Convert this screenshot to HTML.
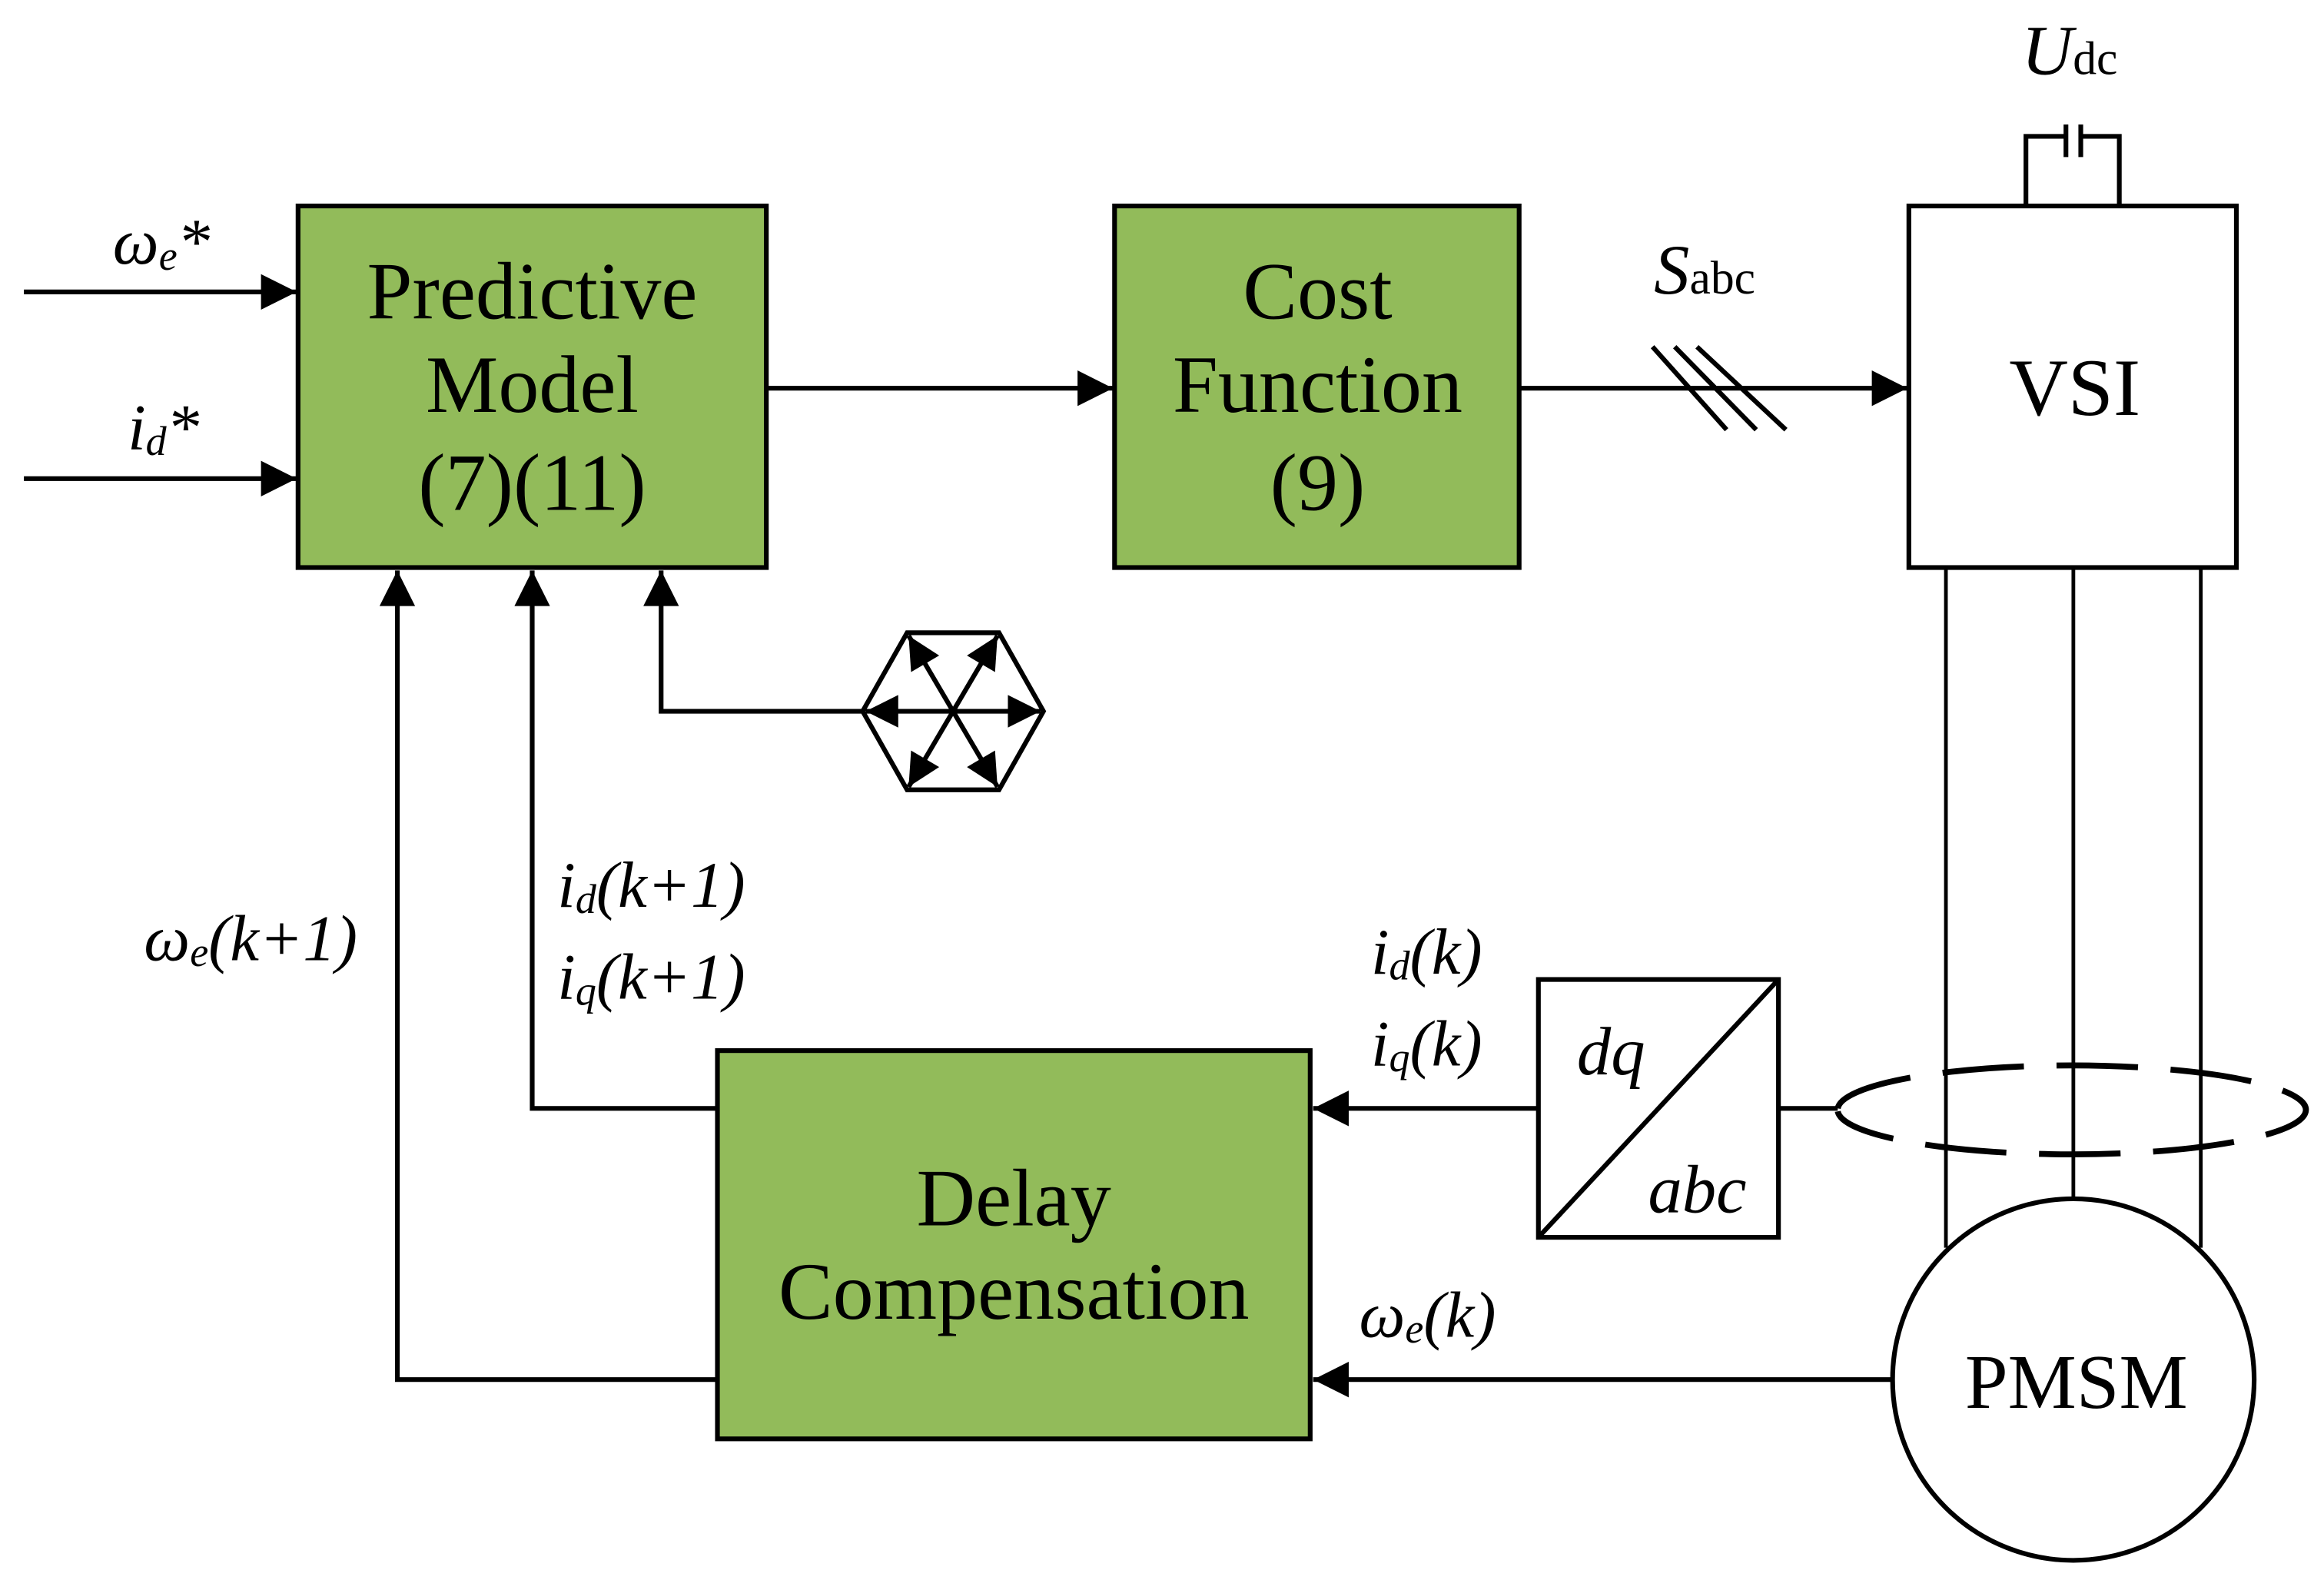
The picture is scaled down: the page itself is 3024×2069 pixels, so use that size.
<!DOCTYPE html>
<html><head><meta charset="utf-8"><style>html,body{margin:0;padding:0;background:#fff}svg{display:block}</style></head>
<body>
<svg width="3024" height="2069" viewBox="0 0 1568 1073" xmlns="http://www.w3.org/2000/svg" font-family="'Liberation Serif', serif">
<defs>
<marker id="a" viewBox="0 0 10 10" refX="10" refY="5" markerWidth="26" markerHeight="24" markerUnits="userSpaceOnUse" orient="auto"><path d="M0,0L10,5L0,10z" fill="#000"/></marker>
<marker id="h" viewBox="0 0 10 10" refX="10" refY="5" markerWidth="24" markerHeight="22" markerUnits="userSpaceOnUse" orient="auto"><path d="M0,0L10,5L0,10z" fill="#000"/></marker>
</defs>
<g stroke="#000" stroke-width="3.2" fill="none">
<rect x="201" y="139" width="316" height="244" fill="#92bb5a"/>
<rect x="752" y="139" width="273" height="244" fill="#92bb5a"/>
<rect x="1288" y="139" width="221" height="244" fill="#fff"/>
<rect x="484" y="709" width="400" height="262" fill="#92bb5a"/>
<rect x="1038" y="661" width="162" height="174" fill="#fff"/>
<line x1="1038" y1="835" x2="1200" y2="661"/>
<line x1="16" y1="197" x2="200" y2="197" marker-end="url(#a)"/>
<line x1="16" y1="323" x2="200" y2="323" marker-end="url(#a)"/>
<line x1="517" y1="262" x2="751" y2="262" marker-end="url(#a)"/>
<line x1="1025" y1="262" x2="1287" y2="262" marker-end="url(#a)"/>
<line x1="1115" y1="234" x2="1165" y2="290"/>
<line x1="1130" y1="234" x2="1185" y2="290"/>
<line x1="1145" y1="234" x2="1205" y2="290"/>
<polyline points="1367,139 1367,92 1394,92"/>
<polyline points="1430,139 1430,92 1404,92"/>
<line x1="1394" y1="84" x2="1394" y2="106"/>
<line x1="1404" y1="84" x2="1404" y2="106"/>
<line x1="1038" y1="748" x2="886" y2="748" marker-end="url(#a)"/>
<line x1="1277" y1="931" x2="886" y2="931" marker-end="url(#a)"/>
<polyline points="1200,748 1240,748"/>
<polyline points="484,748 359,748 359,385" marker-end="url(#a)"/>
<polyline points="484,931 268,931 268,385" marker-end="url(#a)"/>
<polyline points="582,480 446,480 446,385" marker-end="url(#a)"/>
<polygon points="582,480 612,427 674,427 704,480 674,533 612,533"/>
<line x1="643" y1="480" x2="584" y2="480" marker-end="url(#h)"/>
<line x1="643" y1="480" x2="702" y2="480" marker-end="url(#h)"/>
<line x1="643" y1="480" x2="613" y2="429" marker-end="url(#h)"/>
<line x1="643" y1="480" x2="673" y2="429" marker-end="url(#h)"/>
<line x1="643" y1="480" x2="613" y2="531" marker-end="url(#h)"/>
<line x1="643" y1="480" x2="673" y2="531" marker-end="url(#h)"/>
<ellipse cx="1399" cy="931" rx="122" ry="122" fill="#fff"/>
<g stroke-width="2.5">
<line x1="1313" y1="383" x2="1313" y2="842"/>
<line x1="1399" y1="383" x2="1399" y2="809"/>
<line x1="1485" y1="383" x2="1485" y2="842"/>
</g>
<path d="M1240,748 A158,30 0 1 1 1240,750" stroke-width="4" stroke-dasharray="55,22"/>
</g>
<g font-size="55" text-anchor="middle" fill="#000">
<text x="359" y="215">Predictive</text>
<text x="359" y="278">Model</text>
<text x="359" y="344">(7)(11)</text>
<text x="889" y="215">Cost</text>
<text x="889" y="278">Function</text>
<text x="889" y="344">(9)</text>
<text x="1400" y="280">VSI</text>
<text x="684" y="827">Delay</text>
<text x="684" y="890">Compensation</text>
<text x="1401" y="950" font-size="52">PMSM</text>
</g>
<g font-size="44" font-style="italic" fill="#000">
<text x="76" y="178">ω<tspan font-size="28" dy="4">e</tspan><tspan dy="-4">*</tspan></text>
<text x="86" y="303">i<tspan font-size="28" dy="4">d</tspan><tspan dy="-4">*</tspan></text>
<text x="97" y="648">ω<tspan font-size="28" dy="4">e</tspan><tspan dy="-4">(k+1)</tspan></text>
<text x="376" y="612">i<tspan font-size="28" dy="4">d</tspan><tspan dy="-4">(k+1)</tspan></text>
<text x="376" y="674">i<tspan font-size="28" dy="4">q</tspan><tspan dy="-4">(k+1)</tspan></text>
<text x="925" y="657">i<tspan font-size="28" dy="4">d</tspan><tspan dy="-4">(k)</tspan></text>
<text x="925" y="719">i<tspan font-size="28" dy="4">q</tspan><tspan dy="-4">(k)</tspan></text>
<text x="917" y="902">ω<tspan font-size="28" dy="4">e</tspan><tspan dy="-4">(k)</tspan></text>
<text x="1064" y="725" font-size="46">dq</text>
<text x="1112" y="818" font-size="46">abc</text>
<text x="1364" y="50" font-size="48">U<tspan font-style="normal" font-size="32">dc</tspan></text>
<text x="1116" y="198" font-size="48">S<tspan font-style="normal" font-size="32">abc</tspan></text>
</g>
</svg>
</body></html>
